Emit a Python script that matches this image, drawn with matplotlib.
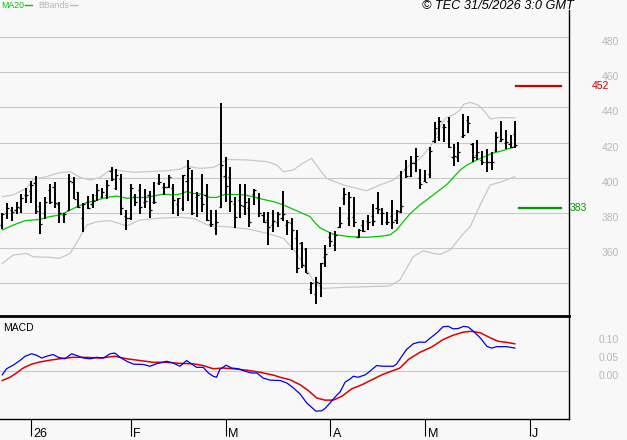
import numpy as np
import matplotlib
matplotlib.use("Agg")
import matplotlib.pyplot as plt
from matplotlib.collections import LineCollection
from matplotlib.lines import Line2D

plt.rcParams['font.family'] = ['Liberation Sans', 'DejaVu Sans']

# daily OHLC bars (trading days, 22/12/2025 .. 29/5/2026)
opens = [373.0, 379.8, 381.7, 381.7, 383.0, 390.2, 392.5, 397.0, 384.0, 380.0,
         393.0, 395.0, 385.0, 379.0, 381.7, 397.4, 391.7, 377.0, 386.0, 385.0,
         390.0, 389.0, 390.0, 404.0, 394.0, 399.0, 378.0, 377.0, 389.8, 393.0,
         386.0, 390.0, 386.0, 396.8, 395.0, 395.0, 394.0, 385.0, 383.0, 398.0,
         400.0, 389.0, 388.3, 390.0, 373.5, 371.6, 383.5, 401.0, 400.6, 385.0,
         387.2, 384.0, 382.6, 390.9, 388.3, 379.0, 376.0, 373.0, 375.0, 377.3,
         373.0, 374.0, 365.6, 362.7, 359.5, 337.0, 334.0, 340.0, 355.0, 366.5,
         362.0, 372.0, 388.3, 377.0, 377.5, 366.5, 373.0, 375.4, 378.0, 383.0,
         380.0, 375.0, 378.0, 376.0, 380.5, 405.0, 401.0, 408.2, 400.0, 398.0,
         402.0, 421.0, 423.0, 429.0, 432.0, 412.0, 412.0, 423.5, 433.0, 419.0,
         413.0, 410.0, 409.0, 409.0, 416.0, 421.0, 420.0, 419.0, 425.0]
highs = [379.8, 385.8, 383.2, 386.0, 391.0, 394.3, 398.1, 400.9, 386.4, 388.9,
         396.4, 397.4, 386.0, 380.1, 402.1, 400.6, 391.7, 385.4, 389.8, 390.6,
         396.2, 394.0, 398.7, 406.3, 405.0, 401.9, 381.7, 396.2, 390.6, 396.2,
         393.4, 392.5, 397.4, 402.1, 396.8, 401.5, 396.4, 388.3, 401.5, 410.0,
         404.4, 392.1, 401.9, 396.2, 381.7, 381.7, 442.6, 412.0, 406.3, 389.2,
         396.2, 396.2, 388.7, 393.4, 391.3, 380.7, 380.7, 381.7, 380.7, 392.5,
         375.8, 376.9, 370.3, 363.7, 359.9, 340.9, 343.8, 351.4, 361.8, 369.3,
         369.7, 383.2, 394.0, 392.1, 388.9, 370.7, 376.0, 378.8, 385.1, 392.1,
         382.6, 380.3, 387.3, 381.7, 403.8, 410.1, 412.5, 416.7, 404.8, 404.4,
         417.6, 431.5, 434.7, 430.3, 434.7, 419.0, 420.1, 436.0, 435.3, 419.5,
         421.4, 415.2, 416.3, 414.4, 425.8, 432.2, 427.1, 424.3, 432.2]
lows = [370.7, 376.5, 375.6, 379.2, 379.8, 385.4, 385.8, 379.4, 367.8, 376.5,
        384.9, 382.6, 374.5, 374.1, 381.7, 387.9, 383.0, 369.0, 382.0, 382.6,
        386.8, 388.7, 387.7, 398.1, 393.0, 378.8, 370.3, 376.0, 384.1, 379.2,
        382.6, 377.3, 384.9, 395.9, 390.2, 394.0, 379.2, 378.4, 381.1, 386.8,
        378.8, 377.9, 380.3, 375.4, 372.2, 367.5, 382.6, 386.0, 380.7, 371.6,
        377.3, 378.8, 371.8, 384.5, 377.9, 374.1, 361.8, 369.0, 372.2, 375.4,
        367.5, 358.9, 345.7, 348.5, 345.7, 333.7, 328.1, 332.4, 349.5, 360.8,
        358.6, 371.2, 384.5, 372.8, 372.2, 365.9, 369.0, 370.3, 372.8, 379.2,
        373.1, 373.1, 370.9, 373.5, 379.8, 400.0, 400.6, 403.4, 393.6, 397.4,
        400.0, 419.5, 420.9, 420.5, 416.7, 406.8, 409.1, 422.8, 425.2, 408.7,
        410.0, 407.2, 403.1, 404.4, 414.4, 420.5, 416.3, 416.7, 416.7]
closes = [379.5, 383.0, 380.7, 383.6, 388.3, 390.2, 395.9, 381.0, 373.5, 386.0,
          386.0, 385.4, 379.8, 379.4, 398.0, 388.0, 383.4, 385.0, 383.0, 386.8,
          393.0, 392.0, 395.9, 399.0, 401.5, 383.0, 377.0, 394.0, 386.0, 383.5,
          386.8, 381.7, 386.4, 397.4, 394.9, 400.6, 387.3, 388.3, 401.5, 405.7,
          379.8, 390.2, 385.0, 376.0, 373.5, 375.0, 407.2, 395.5, 386.8, 377.5,
          384.5, 386.0, 374.7, 393.0, 380.0, 375.0, 371.8, 375.4, 379.2, 379.2,
          375.0, 370.3, 348.5, 350.4, 346.0, 340.4, 340.9, 351.4, 356.5, 364.2,
          367.5, 374.5, 390.6, 389.0, 375.0, 370.3, 369.7, 375.0, 375.4, 382.2,
          379.8, 374.7, 375.0, 381.1, 384.0, 401.0, 408.2, 412.3, 396.2, 397.8,
          415.2, 428.0, 432.5, 429.0, 417.5, 412.5, 414.8, 424.3, 430.9, 412.0,
          414.4, 409.1, 409.1, 409.1, 423.3, 422.0, 420.5, 417.6, 418.5]

# MA20 (bar index, value)
ma_idx = [0, 2.3, 4.8, 6.5, 7.9, 10.0, 12.1, 13.6, 15.7, 17.8, 19.9, 22.0, 24.1,
          26.2, 28.3, 30.4, 31.8, 33.9, 36.0, 37.4, 38.8, 40.2, 42.0, 43.7, 45.1,
          46.9, 48.6, 51.1, 52.8, 54.9, 57.1, 59.2, 61.3, 63.4, 64.8, 65.8, 66.9,
          69.7, 73.2, 76.7, 80.2, 81.6, 83.0, 84.4, 85.8, 87.9, 90.7, 93.6, 96.4,
          97.8, 100.6, 103.3, 105.5, 107.9]
ma_val = [370.3, 373.1, 375.6, 376.0, 376.3, 377.9, 378.8, 380.7, 383.5, 385.8,
          387.3, 388.8, 389.6, 388.3, 388.8, 388.8, 389.6, 390.7, 390.2, 390.7,
          392.1, 391.1, 390.7, 388.8, 388.8, 390.5, 390.5, 390.2, 389.2, 387.7,
          386.4, 384.5, 382.0, 379.5, 377.9, 374.5, 371.5, 367.8, 366.5, 366.1,
          366.9, 367.5, 370.3, 375.0, 379.4, 384.5, 390.2, 396.2, 404.4, 407.2,
          411.0, 414.0, 415.5, 417.6]

# Bollinger bands
up_idx = [0, 2.3, 5.1, 6.5, 9.3, 12.1, 14.3, 16.4, 18.5, 20.6, 22.7, 24.8, 27.6,
          30.4, 34.6, 37.4, 38.8, 41.6, 44.4, 45.8, 47.2, 51.5, 55.7, 57.8, 59.2,
          61.3, 63.0, 65.1, 66.9, 68.3, 71.8, 73.2, 76.7, 79.5, 82.3, 83.7, 85.8,
          88.0, 90.1, 92.2, 93.2, 94.9, 96.4, 97.1, 98.5, 100.2, 101.6, 102.7,
          104.8, 107.9]
up_val = [389.2, 390.2, 394.0, 399.1, 400.6, 402.9, 403.4, 400.2, 398.7, 400.2,
          404.4, 404.0, 403.1, 403.4, 404.0, 404.8, 406.6, 405.3, 405.9, 407.8,
          410.4, 410.1, 409.1, 407.2, 403.4, 404.4, 407.8, 411.0, 404.4, 399.6,
          395.9, 394.9, 392.6, 395.9, 398.7, 401.5, 407.2, 411.0, 417.6, 429.0,
          433.7, 435.6, 438.5, 441.7, 442.8, 441.3, 437.5, 433.4, 434.1, 434.1]
lo_idx = [0, 2.3, 5.1, 6.5, 10.0, 12.1, 14.3, 16.4, 17.8, 19.9, 22.7, 26.2, 29.0,
          32.5, 37.4, 40.2, 43.7, 47.2, 52.1, 55.7, 59.2, 62.0, 64.1, 65.8, 67.6,
          71.8, 76.7, 81.6, 83.7, 86.5, 88.6, 90.7, 92.2, 94.3, 97.1, 98.5, 100.6,
          102.7, 104.8, 107.9]
lo_val = [351.3, 356.1, 357.0, 355.1, 354.8, 354.2, 357.0, 366.5, 373.1, 375.0,
          375.6, 372.6, 376.0, 376.9, 377.5, 376.9, 372.6, 372.2, 370.7, 368.4,
          365.6, 357.0, 347.6, 340.0, 337.1, 337.7, 338.1, 338.5, 341.9, 355.1,
          358.5, 357.0, 356.5, 359.0, 368.4, 372.2, 384.5, 395.9, 397.4, 400.6]

# MACD and signal line
macd_idx = [0, 0.9, 2.3, 3.7, 4.8, 6.2, 7.2, 8.3, 9.3, 10.7, 11.8, 13.2, 14.6,
            15.7, 17.1, 18.5, 19.9, 21.3, 22.7, 23.7, 24.8, 26.2, 27.6, 29.7,
            31.1, 32.5, 34.6, 36.0, 37.4, 38.8, 39.9, 40.9, 42.3, 43.4, 44.4,
            45.1, 45.8, 47.1, 48.3, 49.7, 51.1, 52.5, 53.6, 54.9, 56.4, 58.5,
            59.9, 61.3, 62.7, 64.1, 65.1, 66.0, 67.2, 67.9, 69.0, 70.0, 71.1,
            72.2, 73.2, 73.9, 74.9, 76.4, 77.4, 78.8, 80.2, 82.3, 83.0, 84.1,
            85.1, 86.5, 87.9, 89.0, 90.0, 91.5, 92.8, 93.9, 94.9, 96.0, 97.1,
            98.1, 99.2, 100.6, 102.0, 103.0, 104.1, 106.2, 107.9]
macd_val = [-0.010, 0.007, 0.017, 0.030, 0.042, 0.049, 0.045, 0.037, 0.042, 0.047,
            0.039, 0.035, 0.049, 0.044, 0.037, 0.035, 0.039, 0.037, 0.049, 0.051,
            0.039, 0.028, 0.020, 0.019, 0.014, 0.021, 0.028, 0.023, 0.014, 0.030,
            0.020, 0.011, 0.011, -0.005, -0.014, -0.017, 0.005, 0.017, 0.009,
            0.007, 0.000, -0.005, -0.005, -0.019, -0.025, -0.026, -0.033, -0.047,
            -0.064, -0.089, -0.101, -0.112, -0.111, -0.105, -0.089, -0.073,
            -0.058, -0.030, -0.022, -0.014, -0.017, -0.010, 0.000, 0.016, 0.014,
            0.014, 0.020, 0.042, 0.061, 0.077, 0.082, 0.081, 0.092, 0.108, 0.125,
            0.126, 0.119, 0.120, 0.126, 0.124, 0.112, 0.094, 0.070, 0.065, 0.069,
            0.069, 0.065]
sig_idx = [0, 1.6, 3.0, 4.4, 6.2, 7.9, 10.0, 12.1, 14.9, 17.8, 20.6, 23.7, 26.2,
           29.0, 31.8, 34.6, 37.4, 40.2, 42.3, 44.4, 46.5, 48.6, 51.5, 54.3, 57.1,
           58.5, 60.6, 62.7, 64.4, 66.2, 67.9, 69.7, 71.5, 73.6, 75.7, 77.8, 79.9,
           82.3, 83.7, 85.5, 87.9, 90.4, 92.8, 94.9, 97.1, 98.8, 100.6, 102.7,
           104.4, 106.2, 107.9]
sig_val = [-0.026, -0.017, -0.005, 0.009, 0.020, 0.026, 0.031, 0.035, 0.039, 0.039,
           0.037, 0.042, 0.035, 0.030, 0.025, 0.025, 0.022, 0.021, 0.016, 0.007,
           0.009, 0.007, 0.003, -0.003, -0.011, -0.017, -0.024, -0.038, -0.054,
           -0.075, -0.081, -0.081, -0.070, -0.049, -0.038, -0.024, -0.010, 0.002,
           0.009, 0.033, 0.053, 0.068, 0.089, 0.101, 0.110, 0.112, 0.108, 0.094,
           0.084, 0.081, 0.077]

month_pos = [6, 27, 47, 69, 89, 111]
month_lbl = ['26', 'F', 'M', 'A', 'M', 'J']
price_ticks = [360, 380, 400, 420, 440, 460, 480]
grid_levels = [340, 360, 380, 400, 420, 440, 460, 480]
macd_ticks = [0.10, 0.05, 0.00]
resist, support = 452, 383

BG = '#f8f8f8'
GRID = '#c8c8c8'
LBL = '#b8b8b8'
GREEN = '#00c800'

W, H = 627, 440
fig = plt.figure(figsize=(W / 100, H / 100), dpi=100, facecolor=BG)
ax = fig.add_axes([0, 1 - 315 / H, 569 / W, 305 / H], facecolor=BG)
ax2 = fig.add_axes([0, 1 - 419 / H, 569 / W, 103 / H], facecolor=BG)

# ---- price panel ----
for v in grid_levels:
    ax.axhline(v, color=GRID, lw=0.8, zorder=1)

ax.plot(up_idx, up_val, color=GRID, lw=0.9, zorder=2)
ax.plot(lo_idx, lo_val, color=GRID, lw=0.9, zorder=2)
ax.plot(ma_idx, ma_val, color=GREEN, lw=0.9, zorder=3)

x = np.arange(len(closes))
o, h, l, c = map(np.array, (opens, highs, lows, closes))
vert = [[(i, lo), (i, hi)] for i, lo, hi in zip(x, l, h)]
ticks = [[(i - 0.45, v), (i, v)] for i, v in zip(x, o)] + \
        [[(i, v), (i + 0.45, v)] for i, v in zip(x, c)]
ax.add_collection(LineCollection(vert, colors='black', linewidths=1.4, zorder=4))
ax.add_collection(LineCollection(ticks, colors='black', linewidths=0.9, zorder=4))

ax.axhline(resist, xmin=516 / 569, xmax=561 / 569, color='#cc0000', lw=1.6)
ax.axhline(support, xmin=519 / 569, xmax=561 / 569, color='#009900', lw=1.6)

ax.set_xlim(-0.48, 119.3)
ax.set_ylim(322.0, 495.3)
ax.set_xticks([])
ax.set_yticks([])
for s in ['top', 'left', 'bottom']:
    ax.spines[s].set_visible(False)
ax.spines['right'].set_linewidth(1.0)

ytr = ax.get_yaxis_transform()
for v in price_ticks:
    ax.annotate(str(v), xy=(1.0, v), xycoords=ytr, xytext=(36, -3.6),
                textcoords='offset points', ha='right', va='center',
                fontsize=7.5, color=LBL, annotation_clip=False)
ax.annotate(str(resist), xy=(1.0, resist), xycoords=ytr, xytext=(28.8, 0),
            textcoords='offset points', ha='right', va='center',
            fontsize=7.5, color='#cc0000', annotation_clip=False)
ax.annotate(str(support), xy=(1.0, support), xycoords=ytr, xytext=(0.8, 0),
            textcoords='offset points', ha='left', va='center',
            fontsize=7.5, color='#009900', annotation_clip=False)

# legend + copyright (line keys placed right after each word)
ty = 1 - 5 / H
rend = fig.canvas.get_renderer()
xpos = 1.0
for word, col in [('MA20', GREEN), ('BBands', LBL)]:
    t = fig.text(xpos / W, ty, word, color=col, fontsize=6.3, va='center')
    x1 = t.get_window_extent(rend).x1
    fig.add_artist(Line2D([(x1 + 1) / W, (x1 + 8) / W], [ty, ty], color=col, lw=1))
    xpos = x1 + 14
fig.text(574 / W, 1 - 6 / H, '\u00a9 TEC 31/5/2026 3:0 GMT', ha='right',
         va='center', style='italic', fontsize=9.2)

# ---- MACD panel ----
ax2.axhline(0, color=GRID, lw=0.8)
ax2.plot(sig_idx, sig_val, color='#dd0000', lw=1.1)
ax2.plot(macd_idx, macd_val, color='#0000ee', lw=0.9)
ax2.text(3 / 569, 0.883, 'MACD', transform=ax2.transAxes, fontsize=7.5,
         va='center')

ax2.set_xlim(-0.48, 119.3)
ax2.set_ylim(-0.134, 0.155)
ax2.set_yticks([])
ax2.spines['left'].set_visible(False)
ax2.spines['top'].set_linewidth(2.0)
ax2.spines['bottom'].set_linewidth(1.0)
ax2.spines['right'].set_linewidth(1.0)
ax2.set_xticks(month_pos)
ax2.set_xticklabels([''] * len(month_pos))
ax2.tick_params(axis='x', direction='out', length=12.5, width=0.8, color='black')

ytr2 = ax2.get_yaxis_transform()
for v in macd_ticks:
    ax2.annotate('%.2f' % v, xy=(1.0, v), xycoords=ytr2, xytext=(36, -3.3),
                 textcoords='offset points', ha='right', va='center',
                 fontsize=7.5, color=LBL, annotation_clip=False)

xtr = ax2.get_xaxis_transform()
for p, lbl in zip(month_pos, month_lbl):
    ax2.annotate(lbl, xy=(p, 0), xycoords=xtr, xytext=(1.8, -10.6),
                 textcoords='offset points', ha='left', va='center',
                 fontsize=9, annotation_clip=False)

fig.savefig('out.png', dpi=100, facecolor=BG)
